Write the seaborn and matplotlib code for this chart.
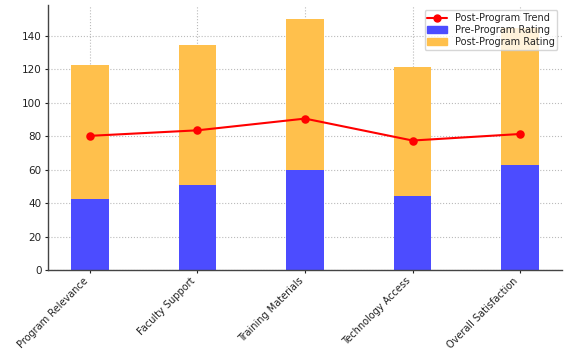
import matplotlib
matplotlib.use("Agg")
import matplotlib.pyplot as plt
import seaborn as sns
import numpy as np
from matplotlib.lines import Line2D
from matplotlib.patches import Patch

categories = ["Program Relevance", "Faculty Support", "Training Materials",
              "Technology Access", "Overall Satisfaction"]
pre_rating = [42.5, 50.8, 59.7, 44.2, 63.1]
post_rating = [80.3, 83.6, 90.6, 77.5, 81.4]

sns.set_theme(style="whitegrid")
plt.rcParams['font.family'] = ['DejaVu Sans']

blue = "#4C4CFF"
orange = "#FFC04C"

fig, ax = plt.subplots(figsize=(5.68, 3.51), dpi=100)
total = [a + b for a, b in zip(pre_rating, post_rating)]

sns.barplot(x=categories, y=total, color=orange, width=0.35, saturation=1,
            linewidth=0, ax=ax)
sns.barplot(x=categories, y=pre_rating, color=blue, width=0.35, saturation=1,
            linewidth=0, ax=ax)
sns.pointplot(x=categories, y=post_rating, color="red", markers="o",
              markersize=5, linewidth=1.5, ax=ax)

ax.set_xlim(-0.3925, 4.3925)
ax.set_ylim(0, 158.3)
ax.set_yticks(np.arange(0, 141, 20))
ax.grid(True, linestyle=":", color="#bbbbbb", linewidth=0.8)
ax.set_axisbelow(True)
for s in ["top", "right"]:
    ax.spines[s].set_visible(False)
for s in ["left", "bottom"]:
    ax.spines[s].set_color("#444444")
    ax.spines[s].set_linewidth(1.0)
ax.tick_params(axis="y", labelsize=7.5, colors="#222222", length=2.5, width=0.8,
               pad=2, left=True)
ax.tick_params(axis="x", labelsize=7, colors="#222222", length=2.5, width=0.8,
               pad=1.5, bottom=True)
plt.setp(ax.get_xticklabels(), rotation=45, ha="right")
ax.set_xlabel("")
ax.set_ylabel("")

handles = [Line2D([0], [0], color="red", marker="o", markersize=5, linewidth=1.5),
           Patch(color=blue), Patch(color=orange)]
labels = ["Post-Program Trend", "Pre-Program Rating", "Post-Program Rating"]
ax.legend(handles, labels, loc="upper right", fontsize=7, frameon=True,
          borderpad=0.3, labelspacing=0.2, handlelength=2.0)

fig.subplots_adjust(left=0.084, right=0.99, top=0.985, bottom=0.23)
fig.savefig("out.png", dpi=100)
